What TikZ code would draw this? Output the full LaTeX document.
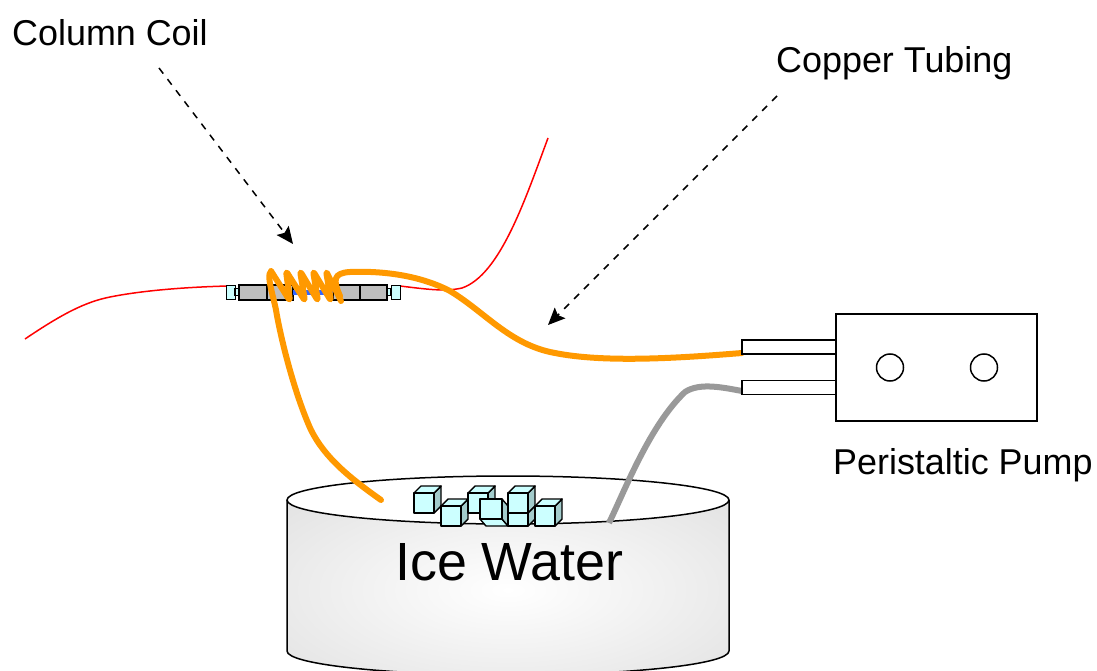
\documentclass[tikz,border=0pt]{standalone}
\usepackage{fontspec}
\setmainfont{Liberation Sans}
\usetikzlibrary{arrows.meta}
\definecolor{tube}{RGB}{255,153,0}
\definecolor{icefront}{RGB}{204,255,255}
\definecolor{iceside}{RGB}{163,204,204}
\definecolor{coldark}{RGB}{190,190,190}
\definecolor{colblue}{RGB}{51,102,255}
\tikzset{
 lab/.style={inner sep=0pt,anchor=base west,text=black},
 dasharrow/.style={draw=black,line width=1.5pt,dash pattern=on 7pt off 7pt,-{Stealth[length=17pt,width=15pt,inset=3pt]}},
 orangetube/.style={draw=tube,line width=6pt,line cap=round,line join=round},
 greytube/.style={draw=black!40,line width=6pt},
 redwire/.style={draw=red,line width=1.5pt},
 colpart/.style={draw=black,line width=1.5pt,fill=coldark},
 colcap/.style={draw=black,line width=1.5pt,fill=icefront},
 pumpbox/.style={draw=black,line width=1.5pt,fill=white},
 icepart/.style={draw=black,line width=1.4pt,line join=round},
}
\newcommand{\icecube}[2]{%
 \fill[iceside,icepart] (#1+20,#2) -- ++(7,-7) -- ++(0,20) -- ++(-7,7) -- cycle;
 \fill[icefront,icepart] (#1,#2) -- ++(7,-7) -- ++(20,0) -- ++(-7,7) -- cycle;
 \fill[icefront,icepart] (#1,#2) rectangle ++(20,20);
}
\begin{document}
\begin{tikzpicture}[x=1pt,y=-1pt]
\useasboundingbox (0,0) rectangle (1097,671);
% bath
\begin{scope}
\clip (287,500) -- (287,651) arc[start angle=180,end angle=0,x radius=221,y radius=24] -- (729,500) -- cycle;
\shade[inner color=white,outer color=black!16] (508,590) ellipse[x radius=440,y radius=190];
\end{scope}
\draw[black,line width=1.5pt] (287,500) -- (287,651) arc[start angle=180,end angle=0,x radius=221,y radius=24] -- (729,500);
\draw[black,line width=1.5pt,fill=white] (508,500) ellipse[x radius=221,y radius=24];
\node[lab,font=\fontsize{53.8pt}{60pt}\selectfont] (icewater) at (395,580) {Ice Water};
% ice
\icecube{414}{493}
\icecube{441}{506}
\icecube{468}{493}
\fill[icefront,icepart] (480,519) -- ++(6,7) -- ++(22,0) -- ++(-6,-7) -- cycle;
\fill[iceside,icepart] (502,499) -- ++(6,7) -- ++(0,20) -- ++(-6,-7) -- cycle;
\fill[icefront,icepart] (480,499) rectangle ++(22,20);
\icecube{508}{493}
\fill[iceside,icepart] (528,513) -- ++(7,-7) -- ++(0,13) -- ++(-7,7) -- cycle;
\fill[icefront,icepart] (508,513) rectangle (528,526);
\icecube{535}{506}
% red wires
\coordinate (wl) at (25,339);
\coordinate (wr) at (548,138);
\draw[redwire] (wl) .. controls (62,314) and (85,302) .. (110,297) .. controls (145,290) and (190,287) .. (228,286);
\draw[redwire] (400,286) .. controls (425,289) and (445,292) .. (462,288) .. controls (500,275) and (525,200) .. (wr);
% column
\node[colcap,minimum width=9pt,minimum height=14pt,inner sep=0pt] (capl) at (231,292.5) {};
\node[colcap,minimum width=9pt,minimum height=14pt,inner sep=0pt] (capr) at (396,292.5) {};
\fill[colcap] (235,288.5) rectangle (239,295.5);
\fill[colcap] (387,288.5) rectangle (391,295.5);
\fill[colpart] (239,285) rectangle (267,300);
\fill[colpart] (267,285) rectangle (293,300);
\fill[colpart] (333,285) rectangle (360,300);
\fill[colpart] (360,285) rectangle (387,300);
\fill[colblue] (293,290) rectangle (333,295);
% tubes
\coordinate (bathend) at (381,500);
\draw[orangetube] (bathend) .. controls (350,478) and (325,458) .. (311,430) .. controls (295,395) and (281,340) .. (276,310) .. controls (273,295) and (266,274) .. (271,272);
\draw[orangetube,rounded corners=3pt] (271,271) -- (290,301) -- (286,271) -- (305,301) -- (300,271) -- (318,301) -- (313,271) -- (331,301) -- (326,271) -- (341,301);
\draw[orangetube] (340,296) .. controls (333,280) and (333,273) .. (350,272) .. controls (375,271) and (415,273) .. (450,291) .. controls (485,312) and (510,345) .. (555,353) .. controls (605,363) and (680,358) .. (742,353);
\draw[greytube] (609,523) .. controls (625,490) and (650,425) .. (685,392) .. controls (700,382) and (725,388) .. (742,391);
% pump
\node[pumpbox,minimum width=94pt,minimum height=14pt,inner sep=0pt] (port1) at (789,347) {};
\node[pumpbox,minimum width=94pt,minimum height=14pt,inner sep=0pt] (port2) at (789,387.5) {};
\node[pumpbox,minimum width=201pt,minimum height=107pt,inner sep=0pt] (pump) at (936.5,367.5) {};
\node[pumpbox,circle,minimum size=27pt,inner sep=0pt] (c1) at (890,367.5) {};
\node[pumpbox,circle,minimum size=27pt,inner sep=0pt] (c2) at (984,367.5) {};
% labels
\node[lab,font=\fontsize{35.9pt}{40pt}\selectfont] (coil) at (12,46) {Column Coil};
\node[lab,font=\fontsize{35.9pt}{40pt}\selectfont] (copper) at (776,73) {Copper Tubing};
\node[lab,font=\fontsize{35.9pt}{40pt}\selectfont] (perist) at (833,474) {Peristaltic Pump};
\coordinate (a1s) at (159,68);
\coordinate (a1e) at (293,244);
\coordinate (a2s) at (777,96);
\coordinate (a2e) at (548,325);
\draw[dasharrow] (a1s) -- (a1e);
\draw[dasharrow] (a2s) -- (a2e);
\end{tikzpicture}
\end{document}
